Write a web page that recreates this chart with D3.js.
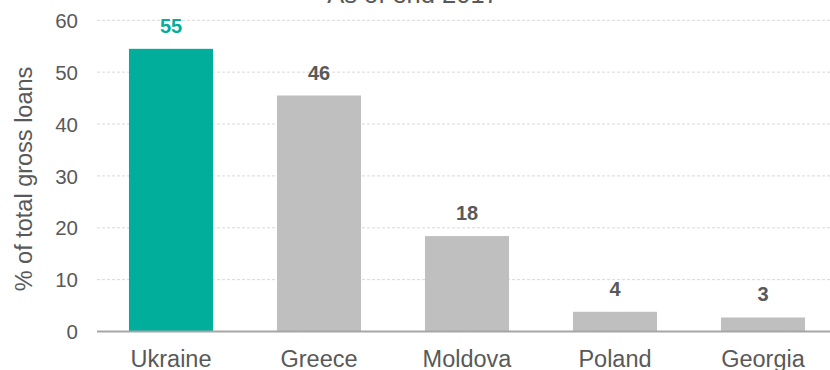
<!DOCTYPE html>
<html>
<head>
<meta charset="utf-8">
<script src="https://cdn.jsdelivr.net/npm/d3@7"></script>
<style>
  html, body { margin: 0; padding: 0; background: #fff; }
  svg { display: block; font-family: Arial, "Liberation Sans", sans-serif; }
</style>
</head>
<body>
<svg id="chart" width="830" height="370"></svg>
<script>
const title = "As of end 2017";
const categories = ["Ukraine", "Greece", "Moldova", "Poland", "Georgia"];
const values = [54.5, 45.5, 18.4, 3.8, 2.7];
const valueLabels = ["55", "46", "18", "4", "3"];
const yTicks = [0, 10, 20, 30, 40, 50, 60];
const yLabel = "% of total gross loans";
const highlight = "Ukraine";

(function () {
const svg = d3.select("#chart");
const plotLeft = 97, plotRight = 837, plotTop = 20.3, plotBottom = 331.5;

const x = d3.scaleBand().domain(categories).range([plotLeft, plotRight])
  .paddingInner(0.432).paddingOuter(0.216);
const y = d3.scaleLinear().domain([0, 60]).range([plotBottom, plotTop]);

const teal = "#00AE9B", gray = "#BFBFBF", textGray = "#595959";

// gridlines
svg.append("g").selectAll("line").data(yTicks.filter(d => d > 0)).join("line")
  .attr("x1", plotLeft).attr("x2", 830)
  .attr("y1", d => y(d)).attr("y2", d => y(d))
  .attr("stroke", "#D9D9D9").attr("stroke-width", 1)
  .attr("stroke-dasharray", "3,2");

// y axis tick labels
const yAxis = d3.axisLeft(y).tickValues(yTicks).tickSize(0).tickPadding(0);
const ya = svg.append("g").attr("transform", `translate(78,0)`).call(yAxis);
ya.select(".domain").remove();
ya.selectAll("text").attr("fill", textGray).attr("font-size", 20.5)
  .attr("font-family", "Arial, 'Liberation Sans', sans-serif").attr("dy", "0.35em");

// bars
svg.append("g").selectAll("rect").data(categories).join("rect")
  .attr("x", d => x(d)).attr("width", x.bandwidth())
  .attr("y", (d, i) => y(values[i]))
  .attr("height", (d, i) => y(0) - y(values[i]))
  .attr("fill", d => d === highlight ? teal : gray);

// value labels
svg.append("g").selectAll("text").data(categories).join("text")
  .attr("x", d => x(d) + x.bandwidth() / 2)
  .attr("y", (d, i) => y(values[i]) - 16)
  .attr("text-anchor", "middle")
  .attr("font-weight", "bold").attr("font-size", 20)
  .attr("fill", d => d === highlight ? teal : textGray)
  .text((d, i) => valueLabels[i]);

// x axis
const xAxis = d3.axisBottom(x).tickSize(0).tickPadding(0);
const xa = svg.append("g").attr("transform", `translate(0,${y(0)})`).call(xAxis);
xa.select(".domain").attr("stroke", "#A6A6A6").attr("stroke-width", 2)
  .attr("d", `M${plotLeft},0H830`);
xa.selectAll("text").attr("fill", textGray).attr("font-size", 23.5)
  .attr("font-family", "Arial, 'Liberation Sans', sans-serif")
  .attr("y", 35).attr("dy", 0);

// y label
svg.append("text")
  .attr("transform", "translate(32,179) rotate(-90)")
  .attr("text-anchor", "middle")
  .attr("font-size", 23.5).attr("fill", textGray)
  .text(yLabel);

// title (mostly cropped at top)
svg.append("text")
  .attr("x", 413).attr("y", 3)
  .attr("text-anchor", "middle")
  .attr("font-size", 25.5).attr("fill", textGray)
  .text(title);
})();
</script>
</body>
</html>
